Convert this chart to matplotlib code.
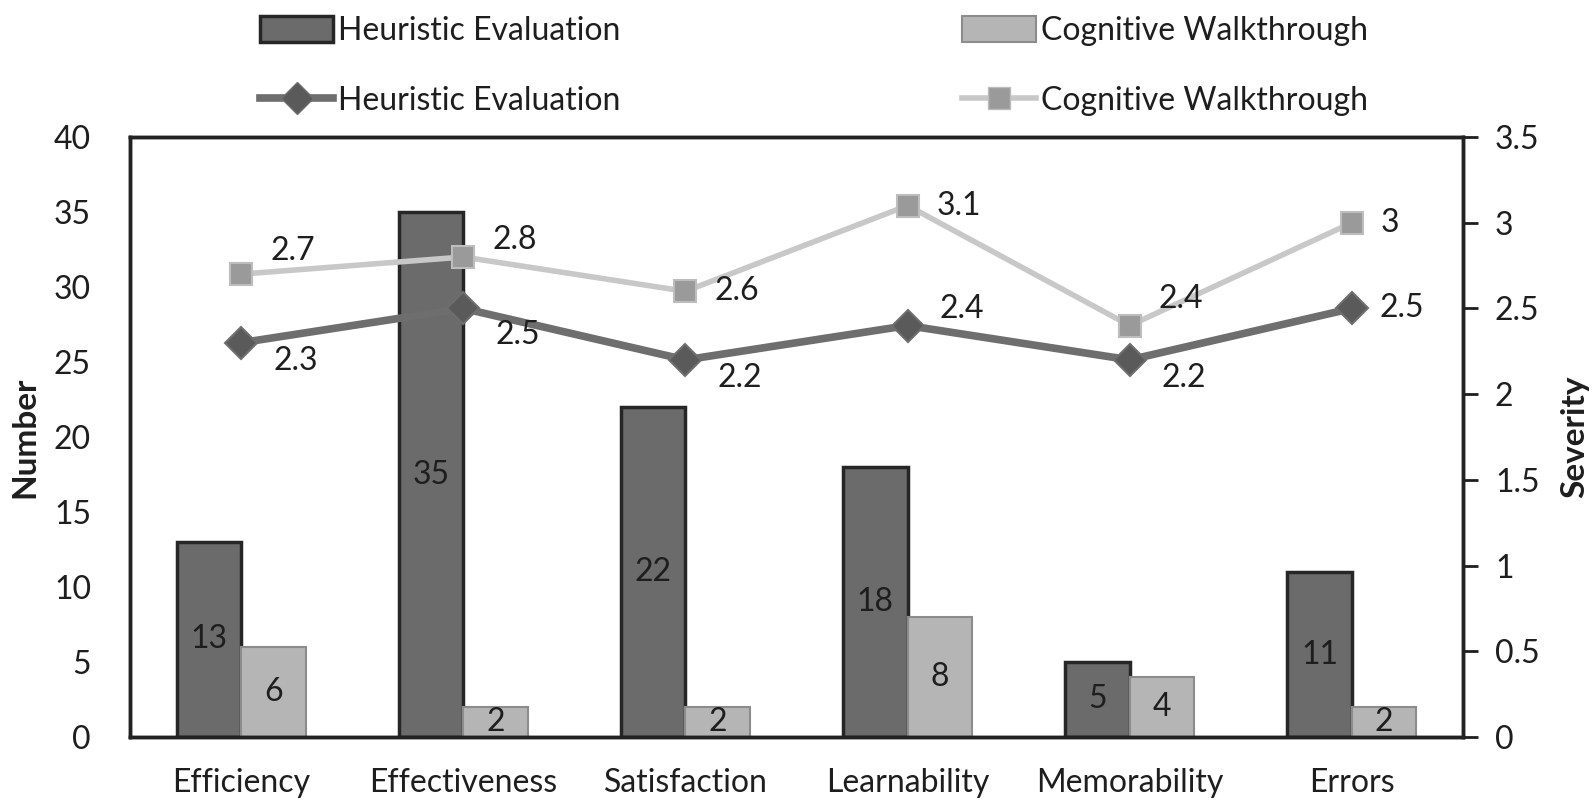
import numpy as np
import matplotlib.pyplot as plt
from matplotlib.lines import Line2D
from matplotlib.patches import Patch

plt.rcParams["font.family"] = ["Lato", "DejaVu Sans"]

categories = ["Efficiency", "Effectiveness", "Satisfaction", "Learnability", "Memorability", "Errors"]
he_number = [13, 35, 22, 18, 5, 11]
cw_number = [6, 2, 2, 8, 4, 2]
he_severity = [2.3, 2.5, 2.2, 2.4, 2.2, 2.5]
cw_severity = [2.7, 2.8, 2.6, 3.1, 2.4, 3.0]

# label nudges (points) so the severity labels sit like in the original
cw_dy = [17, 12, 0, 0, 19, 0]
he_dy = [-13, -19, -13, 12, -13, 0]

x = np.arange(len(categories))
w = 0.29
fs = 23
ink = "#1e1e1e"

fig = plt.figure(figsize=(15.94, 8), dpi=100)
ax = fig.add_axes([130 / 1594, 1 - 737 / 800, (1463 - 130) / 1594, (737 - 137) / 800])

ax.bar(x - w / 2, he_number, w, color="#6b6b6b", edgecolor="#262626", linewidth=2.5, zorder=2)
ax.bar(x + w / 2, cw_number, w, color="#b5b5b5", edgecolor="#8c8c8c", linewidth=1.5, zorder=2)

for xi, v in zip(x, he_number):
    ax.text(xi - w / 2, v / 2, str(v), ha="center", va="center", fontsize=fs, color=ink, zorder=5)
for xi, v in zip(x, cw_number):
    ax.text(xi + w / 2, v / 2, str(v), ha="center", va="center", fontsize=fs, color=ink, zorder=5)

ax.set_xlim(-0.5, len(categories) - 0.5)
ax.set_ylim(0, 40)
ax.set_yticks(range(0, 41, 5))
ax.set_xticks(x)
ax.set_xticklabels(categories)
ax.tick_params(axis="both", length=0, labelsize=fs, colors=ink)
ax.tick_params(axis="x", pad=22)
ax.tick_params(axis="y", pad=28)
for s in ax.spines.values():
    s.set_linewidth(2.5)
    s.set_color("#222222")
ax.set_ylabel("Number", fontsize=fs + 1, fontweight="bold", color=ink)
ax.yaxis.set_label_coords(-0.068, 0.5)

ax2 = ax.twinx()
ax2.set_ylim(0, 3.5)
ax2.set_yticks(np.arange(0, 3.51, 0.5))
ax2.set_yticklabels(["0", "0.5", "1", "1.5", "2", "2.5", "3", "3.5"])
ax2.tick_params(axis="y", length=11, width=2, labelsize=fs, pad=12, direction="out", colors=ink)
for s in ax2.spines.values():
    s.set_linewidth(2.5)
    s.set_color("#222222")
ax2.set_ylabel("Severity", fontsize=fs + 1, fontweight="bold", color=ink)
ax2.yaxis.set_label_coords(1.073, 0.5)

ax2.plot(x, cw_severity, color="#c8c8c8", linewidth=4, marker="s", markersize=16,
         markerfacecolor="#9a9a9a", markeredgecolor="#bdbdbd", markeredgewidth=1.5, zorder=3)
ax2.plot(x, he_severity, color="#6e6e6e", linewidth=5.5, marker="D", markersize=16,
         markerfacecolor="#5a5a5a", markeredgecolor="#6e6e6e", markeredgewidth=1.5, zorder=3)

for xi, v, dy in zip(x, cw_severity, cw_dy):
    ax2.annotate(f"{v:g}", (xi, v), xytext=(21, dy), textcoords="offset points",
                 ha="left", va="center", fontsize=fs, color=ink)
for xi, v, dy in zip(x, he_severity, he_dy):
    ax2.annotate(f"{v:g}", (xi, v), xytext=(20 if dy == 0 else 23, dy), textcoords="offset points",
                 ha="left", va="center", fontsize=fs, color=ink)

handles = [
    Patch(facecolor="#6b6b6b", edgecolor="#262626", linewidth=2.5, label="Heuristic Evaluation"),
    Line2D([], [], color="#6e6e6e", linewidth=5.5, marker="D", markersize=16,
           markerfacecolor="#5a5a5a", markeredgecolor="#6e6e6e", label="Heuristic Evaluation"),
    Patch(facecolor="#b5b5b5", edgecolor="#8c8c8c", linewidth=1.5, label="Cognitive Walkthrough"),
    Line2D([], [], color="#c8c8c8", linewidth=4, marker="s", markersize=16,
           markerfacecolor="#9a9a9a", markeredgecolor="#bdbdbd", label="Cognitive Walkthrough"),
]
fig.legend(handles=handles, ncol=2, loc="upper left", bbox_to_anchor=(244 / 1594, 1.0),
           frameon=False, fontsize=fs, handlelength=2.3, handleheight=0.9, handletextpad=0.15,
           columnspacing=10.7, labelspacing=1.25, borderaxespad=0.1, labelcolor=ink)

fig.savefig("out.png", dpi=100)
